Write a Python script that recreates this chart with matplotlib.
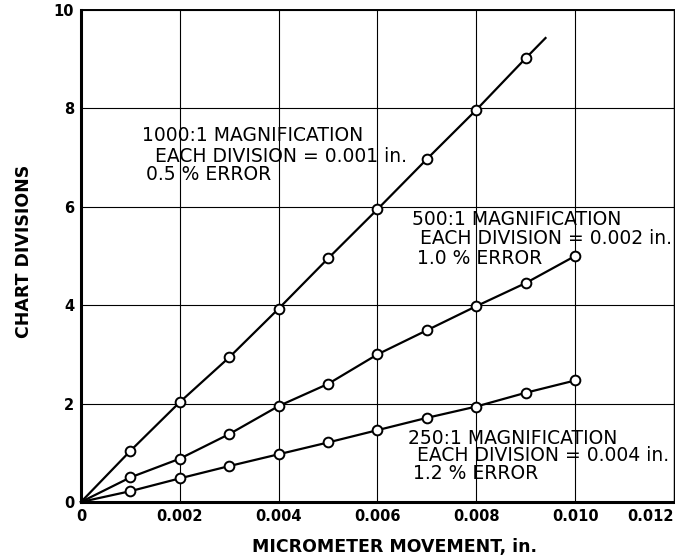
import numpy as np
import matplotlib
matplotlib.use('Agg')
import matplotlib.pyplot as plt

plt.rcParams['font.family'] = ['DejaVu Sans']

# 数据
x_1000 = [0, 0.001, 0.002, 0.003, 0.004, 0.005, 0.006, 0.007, 0.008, 0.009, 0.0094]
y_1000 = [0, 1.04, 2.03, 2.94, 3.93, 4.95, 5.95, 6.97, 7.97, 9.02, 9.43]

x_500 = [0, 0.001, 0.002, 0.003, 0.004, 0.005, 0.006, 0.007, 0.008, 0.009, 0.010]
y_500 = [0, 0.50, 0.88, 1.38, 1.95, 2.40, 3.00, 3.49, 3.98, 4.45, 5.00]

x_250 = [0, 0.001, 0.002, 0.003, 0.004, 0.005, 0.006, 0.007, 0.008, 0.009, 0.010]
y_250 = [0, 0.22, 0.48, 0.73, 0.97, 1.21, 1.46, 1.71, 1.94, 2.22, 2.47]

x_ticks = [0, 0.002, 0.004, 0.006, 0.008, 0.010, 0.012]
x_ticklabels = ['0', '0.002', '0.004', '0.006', '0.008', '0.010', '0.012']
y_ticks = [0, 2, 4, 6, 8, 10]
y_ticklabels = ['0', '2', '4', '6', '8', '10']

labels_1000 = ['1000:1 MAGNIFICATION', 'EACH DIVISION = 0.001 in.', '0.5 % ERROR']
labels_500 = ['500:1 MAGNIFICATION', 'EACH DIVISION = 0.002 in.', '1.0 % ERROR']
labels_250 = ['250:1 MAGNIFICATION', 'EACH DIVISION = 0.004 in.', '1.2 % ERROR']

fig = plt.figure(figsize=(6.75, 5.6), dpi=100)
ax = fig.add_axes([0.12, 0.1036, 0.8785, 0.8786])

line_style = dict(color='black', linewidth=1.6, marker='o', markersize=7,
                  markerfacecolor='white', markeredgecolor='black',
                  markeredgewidth=1.4, clip_on=False, zorder=3)

ax.plot(x_1000, y_1000, markevery=list(range(1, 10)), **line_style)
ax.plot(x_500, y_500, markevery=list(range(1, 11)), **line_style)
ax.plot(x_250, y_250, markevery=list(range(1, 11)), **line_style)

ax.set_xlim(0, 0.012)
ax.set_ylim(0, 10)
ax.set_xticks(x_ticks)
ax.set_xticklabels(x_ticklabels)
ax.set_yticks(y_ticks)
ax.set_yticklabels(y_ticklabels)
ax.tick_params(length=0, labelsize=10.5, pad=5)
for lab in ax.get_xticklabels() + ax.get_yticklabels():
    lab.set_fontweight('bold')
# 最右侧刻度标签贴边显示
ax.get_xticklabels()[-1].set_horizontalalignment('right')

ax.grid(color='black', linewidth=0.8)
ax.set_axisbelow(True)

ax.spines['left'].set_linewidth(2.2)
ax.spines['bottom'].set_linewidth(2.2)
ax.spines['top'].set_linewidth(1.4)
ax.spines['right'].set_linewidth(1.0)

ax.set_xlabel('MICROMETER MOVEMENT, in.', fontsize=12.5, fontweight='bold')
ax.xaxis.set_label_coords(0.528, -0.073)
ax.set_ylabel('CHART DIVISIONS', fontsize=12.5, fontweight='bold')
ax.yaxis.set_label_coords(-0.081, 0.51)

# 注释文字
def put_block(lines, positions):
    for txt, (px, py) in zip(lines, positions):
        ax.text(px, py, txt, transform=ax.transAxes, fontsize=13.5,
                ha='left', va='center', zorder=4)

put_block(labels_1000, [(0.103, 0.744), (0.125, 0.703), (0.110, 0.665)])
put_block(labels_500, [(0.558, 0.575), (0.572, 0.535), (0.567, 0.494)])
put_block(labels_250, [(0.551, 0.130), (0.567, 0.0935), (0.560, 0.057)])

fig.savefig('out.png', dpi=100)
